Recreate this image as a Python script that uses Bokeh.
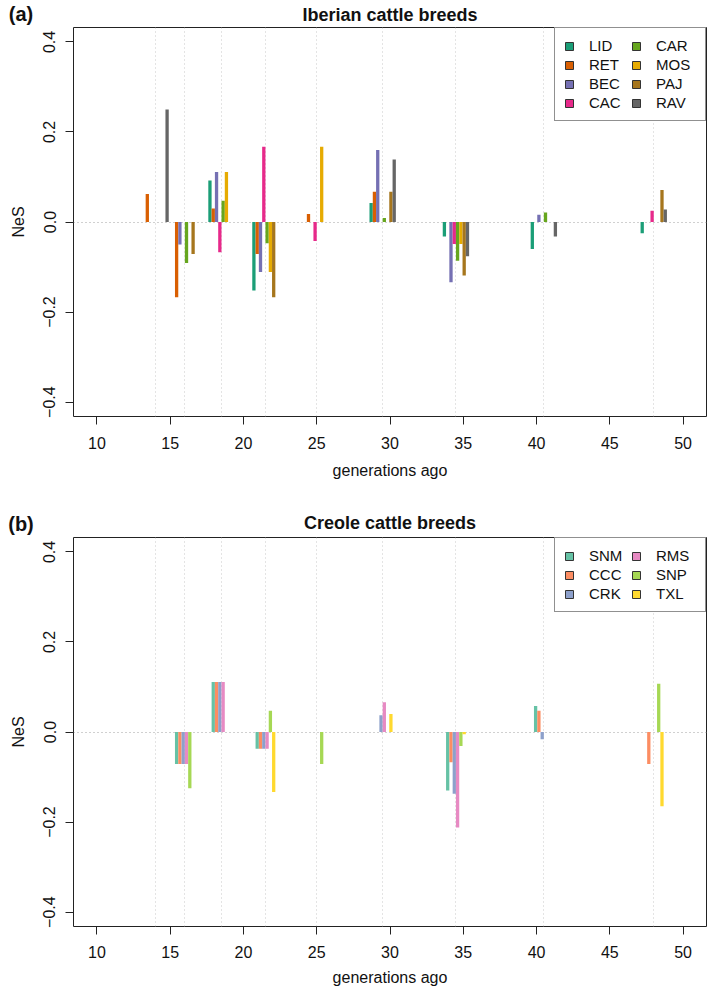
from bokeh.plotting import figure
from bokeh.models import (Range1d, FixedTicker, CustomJSTickFormatter, Legend,
                          LegendItem, Label)
from bokeh.layouts import column
from bokeh.embed import file_html
from bokeh.resources import INLINE

# ---------------- data ----------------
generations = [14, 16, 18.5, 21.5, 25, 29.5, 34.5, 40.5, 48]
x_ticks = [10, 15, 20, 25, 30, 35, 40, 45, 50]
y_ticks = [-0.4, -0.2, 0.0, 0.2, 0.4]

iberian_breeds = ["LID", "RET", "BEC", "CAC", "CAR", "MOS", "PAJ", "RAV"]
LID = [0.0, 0.0, 0.092, -0.152, 0.0, 0.042, -0.032, -0.060, -0.025]
RET = [0.062, -0.167, 0.030, -0.071, 0.018, 0.067, 0.0, 0.0, 0.0]
BEC = [0.0, -0.050, 0.111, -0.111, 0.0, 0.160, -0.134, 0.016, 0.0]
CAC = [0.0, 0.0, -0.067, 0.167, -0.042, 0.0, -0.049, 0.0, 0.025]
CAR = [0.0, -0.091, 0.047, -0.047, 0.0, 0.009, -0.086, 0.021, 0.0]
MOS = [0.0, 0.0, 0.111, -0.111, 0.167, 0.0, -0.049, 0.0, 0.0]
PAJ = [0.0, -0.071, 0.0, -0.167, 0.0, 0.067, -0.119, 0.0, 0.071]
RAV = [0.250, 0.0, 0.0, 0.0, 0.0, 0.139, -0.076, -0.032, 0.028]
iberian_series = [LID, RET, BEC, CAC, CAR, MOS, PAJ, RAV]
iberian_colors = ["#1B9E77", "#D95F02", "#7570B3", "#E7298A",
                  "#66A61E", "#E6AB02", "#A6761D", "#666666"]

creole_breeds = ["SNM", "CCC", "CRK", "RMS", "SNP", "TXL"]
SNM = [0.0, -0.071, 0.111, -0.037, 0.0, 0.0, -0.130, 0.058, 0.0]
CCC = [0.0, -0.071, 0.111, -0.037, 0.0, 0.0, -0.067, 0.047, -0.071]
CRK = [0.0, -0.071, 0.111, -0.037, 0.0, 0.037, -0.137, -0.016, 0.0]
RMS = [0.0, -0.071, 0.111, -0.037, 0.0, 0.066, -0.212, 0.0, 0.0]
SNP = [0.0, -0.125, 0.0, 0.047, -0.071, 0.0, -0.031, 0.0, 0.107]
TXL = [0.0, 0.0, 0.0, -0.133, 0.0, 0.040, -0.005, 0.0, -0.165]
creole_series = [SNM, CCC, CRK, RMS, SNP, TXL]
creole_colors = ["#66C2A5", "#FC8D62", "#8DA0CB", "#E78AC3", "#A6D854", "#FFD92F"]

# ---------------- style ----------------
FONT = "Liberation Sans"
BAR_W = 0.225
FIG_W = 709
LEFT = 73
RIGHT = 3
FRAME_W = FIG_W - LEFT - RIGHT
NAN = float("nan")


def no_frame_align(fig):
    try:
        fig.frame_align = False
    except AttributeError:
        pass


def make_header(title, tag, height, title_y, tag_y):
    h = figure(width=FIG_W, height=height, output_backend="svg",
               toolbar_location=None, title=None,
               x_range=Range1d(0, FIG_W), y_range=Range1d(0, height),
               x_axis_type=None, y_axis_type=None, min_border=0,
               min_border_left=0, min_border_right=0,
               min_border_top=0, min_border_bottom=0)
    no_frame_align(h)
    h.outline_line_color = None
    h.background_fill_color = "white"
    h.border_fill_color = "white"
    h.add_layout(Label(x=LEFT + FRAME_W / 2, y=height - title_y, text=title,
                       text_align="center", text_baseline="middle",
                       text_font=FONT, text_font_size="18px",
                       text_font_style="bold", text_color="#111111"))
    h.add_layout(Label(x=20.5, y=height - tag_y, text=tag,
                       text_align="center", text_baseline="middle",
                       text_font=FONT, text_font_size="20px",
                       text_font_style="bold", text_color="#111111"))
    return h


def make_panel(breeds, series, colors, nrows, height, bottom,
               tick_standoff, label_standoff):
    p = figure(width=FIG_W, height=height, output_backend="svg",
               toolbar_location=None, title=None,
               x_range=Range1d(8.4, 51.6), y_range=Range1d(-0.432, 0.432),
               min_border_left=LEFT, min_border_right=RIGHT,
               min_border_top=0, min_border_bottom=bottom)
    no_frame_align(p)
    p.background_fill_color = "white"
    p.border_fill_color = "white"
    p.outline_line_color = "#222222"
    p.outline_line_width = 1

    # grid: dotted verticals at the time windows, dotted zero line
    p.xgrid.ticker = FixedTicker(ticks=generations)
    p.xgrid.grid_line_color = "#c8c8c8"
    p.xgrid.grid_line_dash = "1 3"
    p.ygrid.ticker = FixedTicker(ticks=[0])
    p.ygrid.grid_line_color = "#a0a0a0"
    p.ygrid.grid_line_dash = "1 3"

    n = len(breeds)
    items = []
    for i, (b, vals, c) in enumerate(zip(breeds, series, colors)):
        xs = [g + (i - (n - 1) / 2) * BAR_W for g in generations]
        p.vbar(x=xs, top=vals, bottom=0, width=BAR_W,
               fill_color=c, line_color=None)
        # legend swatch only (no visible mark on the plot)
        swatch = p.quad(left=[NAN], right=[NAN], top=[NAN], bottom=[NAN],
                        fill_color=c, line_color="#333333", line_width=1)
        items.append(LegendItem(label=b, renderers=[swatch]))

    leg = Legend(items=items, nrows=nrows, location="top_right", margin=0,
                 padding=9, spacing=2, border_line_color="#222222",
                 border_line_width=1, background_fill_color="white",
                 background_fill_alpha=1.0, label_text_font=FONT,
                 label_text_font_size="15px", label_text_color="#111111",
                 label_standoff=15, label_width=40, label_height=17,
                 glyph_width=10, glyph_height=10)
    p.add_layout(leg)

    # axes
    p.xaxis.ticker = FixedTicker(ticks=x_ticks, minor_ticks=[])
    p.yaxis.ticker = FixedTicker(ticks=y_ticks, minor_ticks=[])
    p.yaxis.formatter = CustomJSTickFormatter(
        code='return (tick < 0 ? "\\u2212" : "") + Math.abs(tick).toFixed(1);')
    p.yaxis.major_label_orientation = "vertical"
    p.xaxis.axis_label = "generations ago"
    p.yaxis.axis_label = "NeS"
    for ax in p.axis:
        ax.axis_line_color = None
        ax.major_tick_out = 8
        ax.major_tick_in = 0
        ax.major_tick_line_color = "#222222"
        ax.minor_tick_line_color = None
        ax.major_label_text_font = FONT
        ax.major_label_text_font_size = "16px"
        ax.major_label_text_color = "#111111"
        ax.axis_label_text_font = FONT
        ax.axis_label_text_font_size = "16px"
        ax.axis_label_text_font_style = "normal"
        ax.axis_label_text_color = "#111111"
    p.xaxis.major_label_standoff = tick_standoff
    p.xaxis.axis_label_standoff = label_standoff
    p.yaxis.major_label_standoff = 10
    p.yaxis.axis_label_standoff = 14
    return p


h1 = make_header("Iberian cattle breeds", "(a)", 27, 14, 13.5)
p1 = make_panel(iberian_breeds, iberian_series, iberian_colors, 4,
                height=483, bottom=94, tick_standoff=12, label_standoff=10)
h2 = make_header("Creole cattle breeds", "(b)", 27, 12, 13.5)
p2 = make_panel(creole_breeds, creole_series, creole_colors, 3,
                height=454, bottom=65, tick_standoff=11, label_standoff=8)

layout = column(h1, p1, h2, p2, spacing=0)
open("out.html", "w").write(file_html(layout, INLINE))
